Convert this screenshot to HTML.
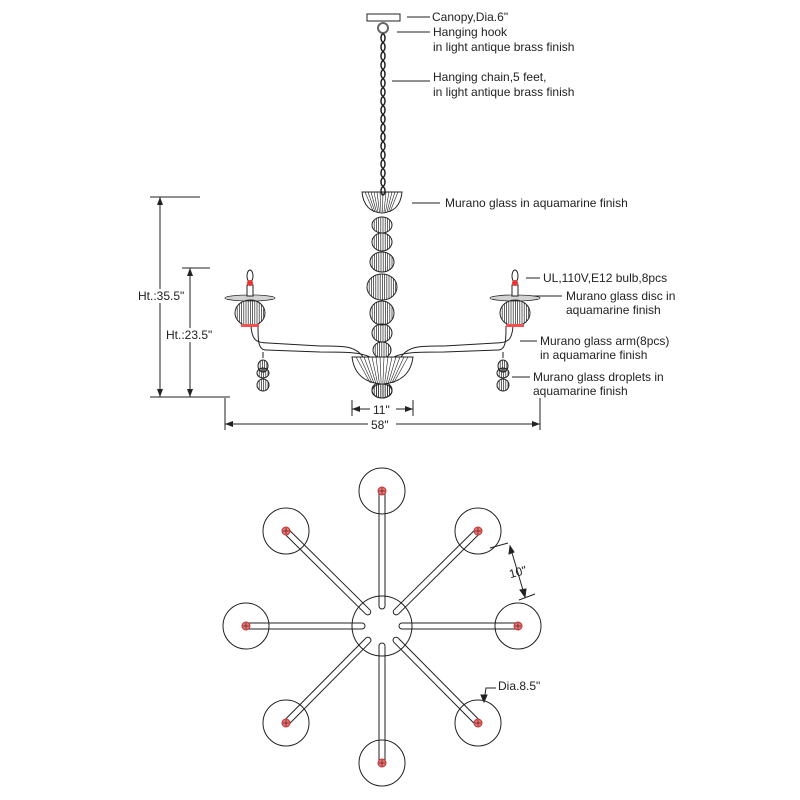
<!DOCTYPE html>
<html><head><meta charset="utf-8"><style>
html,body{margin:0;padding:0;background:#fff;}
svg{display:block}
text{font-family:"Liberation Sans",Arial,sans-serif;font-size:12px;fill:#222}
</style></head><body>
<svg id="s" width="800" height="800" viewBox="0 0 800 800" xmlns="http://www.w3.org/2000/svg">
<g stroke="#222" fill="none" stroke-width="1">
<rect x="367" y="14" width="33" height="7"/>
<circle cx="383" cy="28" r="5" stroke="#666" stroke-width="2"/>
<line x1="430" y1="17" x2="407" y2="17"/>
<line x1="430" y1="32" x2="397" y2="32"/>
<line x1="430" y1="81" x2="392" y2="81"/>
<line x1="440" y1="203" x2="412" y2="203"/>
<line x1="540" y1="278" x2="526" y2="278"/>
<line x1="562" y1="296" x2="534" y2="296"/>
<line x1="537" y1="341" x2="520" y2="341"/>
<line x1="530" y1="377" x2="512" y2="377"/>
<line x1="160" y1="197" x2="160" y2="397"/>
<line x1="150" y1="197" x2="200" y2="197"/>
<line x1="150" y1="397" x2="230" y2="397"/>
<line x1="190" y1="268" x2="190" y2="397"/>
<line x1="182" y1="268" x2="210" y2="268"/>
<line x1="225" y1="398" x2="225" y2="430"/>
<line x1="540" y1="398" x2="540" y2="430"/>
<line x1="225" y1="424" x2="540" y2="424"/>
<line x1="352" y1="400" x2="352" y2="416"/>
<line x1="413" y1="400" x2="413" y2="416"/>
<line x1="352" y1="409" x2="413" y2="409"/>
</g>
<g fill="#222">
<polygon points="160,197 157,205 163,205"/><polygon points="160,397 157,389 163,389"/>
<polygon points="190,268 187,276 193,276"/><polygon points="190,397 187,389 193,389"/>
<polygon points="225,424 233,421 233,427"/><polygon points="540,424 532,421 532,427"/>
<polygon points="352,409 360,406 360,412"/><polygon points="413,409 405,406 405,412"/>
</g>
<rect x="137" y="289" width="48" height="14" fill="#fff"/>
<text x="138" y="300">Ht.:35.5"</text>
<rect x="166" y="328" width="48" height="14" fill="#fff"/>
<text x="166" y="339">Ht.:23.5"</text>
<rect x="370" y="403" width="26" height="13" fill="#fff"/>
<text x="373" y="414">11"</text>
<rect x="368" y="418" width="28" height="13" fill="#fff"/>
<text x="371" y="429">58"</text>
<text x="432" y="21">Canopy,Dia.6"</text>
<text x="433" y="36">Hanging hook</text>
<text x="433" y="51">in light antique brass finish</text>
<text x="433" y="81">Hanging chain,5 feet,</text>
<text x="433" y="96">in light antique brass finish</text>
<text x="445" y="207">Murano glass in aquamarine finish</text>
<text x="543" y="282">UL,110V,E12 bulb,8pcs</text>
<text x="566" y="300">Murano glass disc in</text>
<text x="566" y="314">aquamarine finish</text>
<text x="540" y="345">Murano glass arm(8pcs)</text>
<text x="540" y="359">in aquamarine finish</text>
<text x="533" y="381">Murano glass droplets in</text>
<text x="533" y="395">aquamarine finish</text>
<text x="509" y="576" transform="rotate(-15 518 572)">10"</text>
<text x="498" y="690">Dia.8.5"</text>
<g id="dyn" stroke="#222" fill="none"></g>
</svg>
<script>
const g=document.getElementById('dyn');let h='';
for(let y=34;y<190;y+=9){h+=`<ellipse cx="383" cy="${y+4}" rx="2" ry="4" stroke-width="1.5"/>`;}
function ball(cx,cy,rx,ry){h+=`<ellipse cx="${cx}" cy="${cy}" rx="${rx}" ry="${ry}"/>`;for(let i=-rx+2.2;i<rx;i+=2.2){let yy=ry*Math.sqrt(1-(i/rx)**2);h+=`<line x1="${cx+i}" y1="${cy-yy}" x2="${cx+i}" y2="${cy+yy}" stroke-width="0.7"/>`;}}
h+=`<path d="M363,357 C355,345 340,346 320,346 L268,343 C256,343 252,340 251,326 M370,357 C360,352 345,352 320,352 L266,350 C258,350 258,340 258,326" stroke-width="1"/>`;
h+=`<path d="M401,357 C409,345 424,346 444,346 L496,343 C508,343 512,340 513,326 M394,357 C404,352 419,352 444,352 L498,350 C506,350 506,340 506,326" stroke-width="1"/>`;
h+=`<path d="M362,192 L402,192 Q400,212 382,213 Q364,212 362,192Z"/>`;
for(let x=365;x<400;x+=3)h+=`<line x1="${x}" y1="192" x2="${382+(x-382)*0.5}" y2="212" stroke-width="0.6"/>`;
[[225,10,8],[242,10,9],[262,12,10],[287,15,13],[313,12,12],[333,10,9],[350,9,8],[390,10,8]].forEach(b=>ball(382,b[0],b[1],b[2]));
h+=`<path d="M352,357 L413,357 Q410,382 382,384 Q355,382 352,357Z" fill="#fff"/>`;
for(let x=356;x<411;x+=4)h+=`<line x1="${x}" y1="357" x2="${382+(x-382)*0.45}" y2="383" stroke-width="0.6"/>`;
ball(382,391,10,7);
[250,515].forEach(c=>{
 ball(c,313,15,13);
 h+=`<rect x="${c-9}" y="324" width="18" height="3" fill="#f05050" stroke="none"/>`;
 h+=`<ellipse cx="${c}" cy="298" rx="25" ry="3" stroke-width="0.8"/>`;
 for(let x=c-22;x<c+23;x+=2)h+=`<line x1="${x}" y1="296" x2="${x}" y2="300" stroke-width="0.4"/>`;
 h+=`<rect x="${c-3}" y="285" width="6" height="11" fill="#fff"/>`;
 h+=`<ellipse cx="${c}" cy="276" rx="3" ry="6"/><circle cx="${c}" cy="283" r="2.5" fill="#e33" stroke="#e33"/>`;
 const d=c<382?c+13:c-12;
 h+=`<line x1="${d}" y1="352" x2="${d}" y2="358"/>`;
 ball(d,366,5,6);ball(d,373,6,5);ball(d,385,6,6);
});
const C=[382,626];
const P=[[382,491],[478,531],[518,626],[478,723],[382,763],[286,723],[246,626],[286,531]];
h+=`<circle cx="382" cy="626" r="30"/>`;
P.forEach(p=>{
 h+=`<circle cx="${p[0]}" cy="${p[1]}" r="23"/>`;
 let dx=p[0]-C[0],dy=p[1]-C[1],L=Math.hypot(dx,dy),ux=dx/L,uy=dy/L,nx=-uy*3,ny=ux*3;
 let a=[C[0]+ux*20,C[1]+uy*20],b=[p[0],p[1]];
 h+=`<line x1="${a[0]+nx}" y1="${a[1]+ny}" x2="${b[0]+nx}" y2="${b[1]+ny}"/>`;
 h+=`<line x1="${a[0]-nx}" y1="${a[1]-ny}" x2="${b[0]-nx}" y2="${b[1]-ny}"/>`;
 h+=`<path d="M${a[0]+nx},${a[1]+ny} A3,3 0 0 1 ${a[0]-nx},${a[1]-ny}" />`;
 h+=`<circle cx="${p[0]}" cy="${p[1]}" r="4" fill="#f07070" stroke="#b33"/>`;
 h+=`<line x1="${p[0]-3}" y1="${p[1]}" x2="${p[0]+3}" y2="${p[1]}" stroke-width="0.6"/><line x1="${p[0]}" y1="${p[1]-3}" x2="${p[0]}" y2="${p[1]+3}" stroke-width="0.6"/>`;
});
h+=`<line x1="490" y1="548" x2="508" y2="543"/><line x1="519" y1="600" x2="535" y2="594"/><line x1="510" y1="546" x2="525" y2="597"/>`;
h+=`<polygon points="510,546 509,554 514,552" fill="#222"/><polygon points="525,597 520,590 526,589" fill="#222"/>`;
h+=`<path d="M484,701 L486,688 L496,688"/><polygon points="484,702 481,695 487,695" fill="#222"/>`;
g.innerHTML=h;
</script>
</body></html>
